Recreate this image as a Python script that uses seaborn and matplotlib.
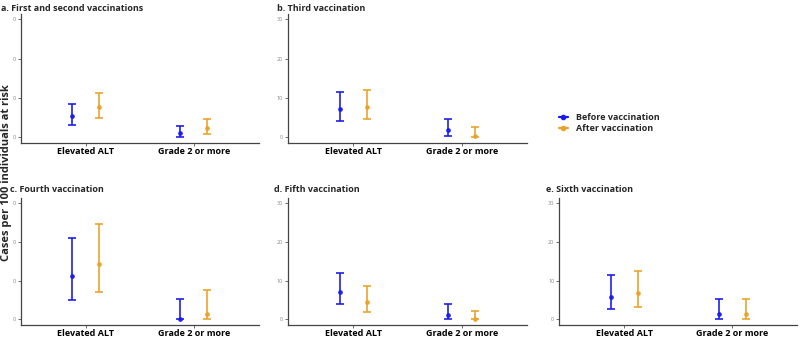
import matplotlib
import numpy as np
import pandas as pd
import seaborn as sns

matplotlib.use("Agg")
import matplotlib.pyplot as plt
from matplotlib.lines import Line2D

# ── Data (cases per 100 individuals at risk, estimate with 95% CI) ─────────
OUTCOMES = ["Elevated ALT", "Grade 2 or more"]
PERIODS = ["Before vaccination", "After vaccination"]
PANEL_TITLES = [
    "a. First and second vaccinations",
    "b. Third vaccination",
    "c. Fourth vaccination",
    "d. Fifth vaccination",
    "e. Sixth vaccination",
]

# order per panel: [ALT before, ALT after, Grade2 before, Grade2 after]
ESTIMATE = [
    [5.4, 7.7, 1.0, 2.4],
    [7.2, 7.6, 1.9, 0.4],
    [11.3, 14.3, 0.0, 1.5],
    [7.2, 4.5, 1.2, 0.1],
    [5.9, 6.8, 1.5, 1.5],
]
LOWER = [
    [3.1, 4.9, 0.1, 0.85],
    [4.0, 4.5, 0.35, 0.0],
    [5.1, 7.1, 0.0, 0.1],
    [3.9, 2.0, 0.2, 0.0],
    [2.7, 3.2, 0.2, 0.2],
]
UPPER = [
    [8.5, 11.3, 2.8, 4.7],
    [11.6, 12.1, 4.7, 2.6],
    [21.1, 24.6, 5.2, 7.7],
    [12.0, 8.6, 4.0, 2.1],
    [11.5, 12.4, 5.4, 5.4],
]

Y_TICKS = [0, 10, 20, 30]
# panels a and c show clipped tick labels in the original
Y_TICKLABELS = [
    ["0", "0", "0", "0"],
    ["0", "10", "20", "30"],
    ["0", "0", "0", "0"],
    ["0", "10", "20", "30"],
    ["0", "10", "20", "30"],
]

COLORS = {"Before vaccination": "#1a1aee", "After vaccination": "#eba127"}
FONT = ["Open Sans", "DejaVu Sans"]


def build_frame() -> pd.DataFrame:
    rows = []
    for p, title in enumerate(PANEL_TITLES):
        k = 0
        for outcome in OUTCOMES:
            for period in PERIODS:
                rows.append(
                    {
                        "panel": title,
                        "outcome": outcome,
                        "period": period,
                        "est": ESTIMATE[p][k],
                        "lo": LOWER[p][k],
                        "hi": UPPER[p][k],
                    }
                )
                k += 1
    return pd.DataFrame(rows)


def main() -> None:
    sns.set_theme(style="ticks")
    plt.rcParams["font.family"] = FONT

    df = build_frame()

    fig = plt.figure(figsize=(8, 3.38), dpi=100)
    positions = [
        [0.026, 0.577, 0.2975, 0.382],
        [0.360, 0.577, 0.2985, 0.382],
        [0.026, 0.038, 0.2975, 0.376],
        [0.360, 0.038, 0.2985, 0.376],
        [0.699, 0.038, 0.2975, 0.376],
    ]
    dodge = {"Before vaccination": -0.125, "After vaccination": 0.125}

    for p, title in enumerate(PANEL_TITLES):
        ax = fig.add_axes(positions[p])
        sub = df[df["panel"] == title]
        for period in PERIODS:
            s = sub[sub["period"] == period]
            x = np.array([OUTCOMES.index(o) for o in s["outcome"]]) + 1 + dodge[period]
            ax.errorbar(
                x, s["est"],
                yerr=[s["est"] - s["lo"], s["hi"] - s["est"]],
                fmt="o", color=COLORS[period], ms=2.4, lw=1.3,
                capsize=3.2, capthick=1.3, alpha=0.9,
            )
        ax.set_xlim(0.4, 2.6)
        ax.set_ylim(-1.5, 31.4)
        ax.set_xticks([1, 2])
        ax.set_xticklabels(OUTCOMES, fontsize=6.5, fontweight="bold", color="black")
        ax.set_yticks(Y_TICKS)
        ax.set_yticklabels(Y_TICKLABELS[p], fontsize=4, color="#888888")
        ax.tick_params(axis="both", length=2, width=0.6, color="#555555", pad=1.5)
        ax.tick_params(axis="x", pad=1.0)
        for side in ["left", "bottom"]:
            ax.spines[side].set_linewidth(0.9)
            ax.spines[side].set_color("#444444")
        sns.despine(ax=ax)
        ax.set_xlabel("")
        ax.set_ylabel("")

    title_pos = [(0.001, 0.975), (0.346, 0.975), (0.012, 0.438), (0.343, 0.438), (0.683, 0.438)]
    for p, title in enumerate(PANEL_TITLES):
        fig.text(title_pos[p][0], title_pos[p][1], title, fontsize=6.5,
                 fontweight="bold", ha="left", va="center")

    fig.text(0.008, 0.49, "Cases per 100 individuals at risk", rotation=90,
             fontsize=8, fontweight="bold", ha="center", va="center")

    handles = [
        Line2D([0], [0], color=COLORS[p], marker="o", ms=3, lw=1.6) for p in PERIODS
    ]
    fig.legend(handles, PERIODS, loc="center left", bbox_to_anchor=(0.688, 0.635),
               frameon=False, prop={"size": 6.5, "weight": "bold"},
               handlelength=1.0, handletextpad=0.9, labelspacing=0.25)

    fig.savefig("out.png", dpi=100)
    plt.close(fig)


if __name__ == "__main__":
    main()
